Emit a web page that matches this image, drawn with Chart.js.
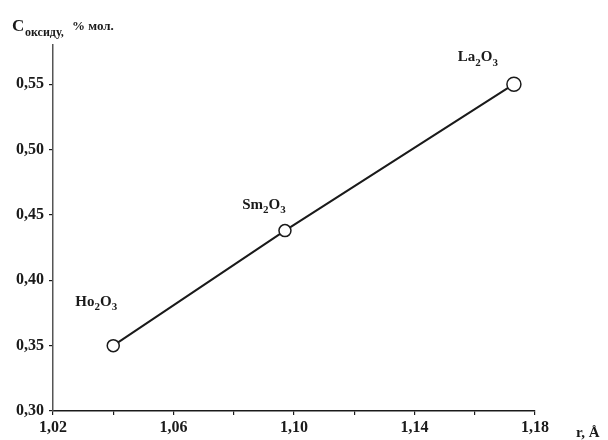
<!DOCTYPE html>
<html lang="ru">
<head>
<meta charset="UTF-8">
<title>C оксиду vs r</title>
<script src="https://cdn.jsdelivr.net/npm/chart.js"></script>
<style>
  html, body { margin: 0; padding: 0; background: #fff; }
  canvas { display: block; }
</style>
</head>
<body>
<canvas id="chart" width="608" height="440"></canvas>
<script>
// data
const oxides = ['Ho2O3', 'Sm2O3', 'La2O3'];
const ionRadius = [1.040, 1.097, 1.173];      // r, Å
const oxideContent = [0.35, 0.438, 0.55];      // C, % мол.
const xMajorTicks = [1.02, 1.06, 1.10, 1.14, 1.18];
const xMinorTicks = [1.04, 1.08, 1.12, 1.16];
const yTicks = [0.30, 0.35, 0.40, 0.45, 0.50, 0.55];

const serif = '"Liberation Serif", "DejaVu Serif", serif';
const ink = '#1a1a1a';

// label offsets from each point (px)
const labelShift = [[-17, -45], [-21, -27], [-36, -28]];
const pointSize = [6, 6, 7];

function fmt(v) {
    return v.toFixed(2).replace('.', ',');
}

function isMajor(v) {
    return xMajorTicks.some(m => Math.abs(m - v) < 1e-6);
}

// draws a formula like La2O3 with digits as subscripts, centred at x
function drawFormula(ctx, text, x, y, size) {
    const big = 'bold ' + size + 'px ' + serif;
    const small = 'bold ' + Math.round(size * 0.72) + 'px ' + serif;
    const parts = text.split('').map(ch => ({ ch, sub: /\d/.test(ch) }));
    let total = 0;
    parts.forEach(p => {
        ctx.font = p.sub ? small : big;
        p.w = ctx.measureText(p.ch).width;
        total += p.w;
    });
    let cx = x - total / 2;
    ctx.textAlign = 'left';
    ctx.textBaseline = 'alphabetic';
    parts.forEach(p => {
        ctx.font = p.sub ? small : big;
        ctx.fillText(p.ch, cx, p.sub ? y + size * 0.3 : y);
        cx += p.w;
    });
}

const labelsPlugin = {
    id: 'oxideLabels',
    afterDatasetsDraw(chart) {
        const ctx = chart.ctx;
        const meta = chart.getDatasetMeta(0);
        ctx.save();
        ctx.fillStyle = ink;
        meta.data.forEach((pt, i) => {
            drawFormula(ctx, oxides[i], pt.x + labelShift[i][0], pt.y + labelShift[i][1] + 5, 15);
        });
        ctx.restore();
    },
    afterDraw(chart) {
        const ctx = chart.ctx;
        const a = chart.chartArea;
        ctx.save();
        ctx.fillStyle = ink;
        ctx.textBaseline = 'alphabetic';
        ctx.textAlign = 'left';
        // y axis title: C оксиду, % мол.
        ctx.font = 'bold 17px ' + serif;
        ctx.fillText('C', a.left - 41, 31);
        ctx.font = 'bold 12px ' + serif;
        ctx.fillText('оксиду,', a.left - 28, 36);
        ctx.font = 'bold 13px ' + serif;
        ctx.fillText('% мол.', a.left + 19, 30);
        // x axis title: r, Å
        ctx.font = 'bold 15px ' + serif;
        ctx.fillText('r, Å', a.right + 41, 437);
        ctx.restore();
    }
};

new Chart(document.getElementById('chart'), {
    type: 'scatter',
    data: {
        datasets: [{
            data: ionRadius.map((r, i) => ({ x: r, y: oxideContent[i] })),
            showLine: true,
            borderColor: ink,
            borderWidth: 2,
            pointRadius: pointSize,
            pointBackgroundColor: '#fff',
            pointBorderColor: ink,
            pointBorderWidth: 1.5
        }]
    },
    options: {
        responsive: false,
        animation: false,
        devicePixelRatio: 1,
        layout: { padding: { top: 45, right: 73, left: 0, bottom: 0 } },
        plugins: {
            legend: { display: false },
            tooltip: { enabled: false }
        },
        scales: {
            x: {
                type: 'linear',
                min: 1.02,
                max: 1.18,
                afterBuildTicks: s => {
                    s.ticks = xMajorTicks.concat(xMinorTicks).sort((a, b) => a - b).map(v => ({ value: v }));
                },
                afterFit: s => { s.height = 29; },
                ticks: {
                    autoSkip: false,
                    maxRotation: 0,
                    padding: 3,
                    color: ink,
                    font: { family: serif, size: 16, weight: 'bold' },
                    callback: v => isMajor(v) ? fmt(v) : ''
                },
                grid: { drawOnChartArea: false, tickLength: 4, color: ink, lineWidth: 1.2 },
                border: { color: ink, width: 1.5 }
            },
            y: {
                min: 0.30,
                max: 0.58,
                afterBuildTicks: s => {
                    s.ticks = yTicks.map(v => ({ value: v }));
                },
                afterFit: s => { s.width = 53; },
                ticks: {
                    padding: 5,
                    color: ink,
                    font: { family: serif, size: 16, weight: 'bold' },
                    callback: v => fmt(v)
                },
                grid: { drawOnChartArea: false, tickLength: 4, color: ink, lineWidth: 1.2 },
                border: { color: '#555', width: 1.5 }
            }
        }
    },
    plugins: [labelsPlugin]
});
</script>
</body>
</html>
